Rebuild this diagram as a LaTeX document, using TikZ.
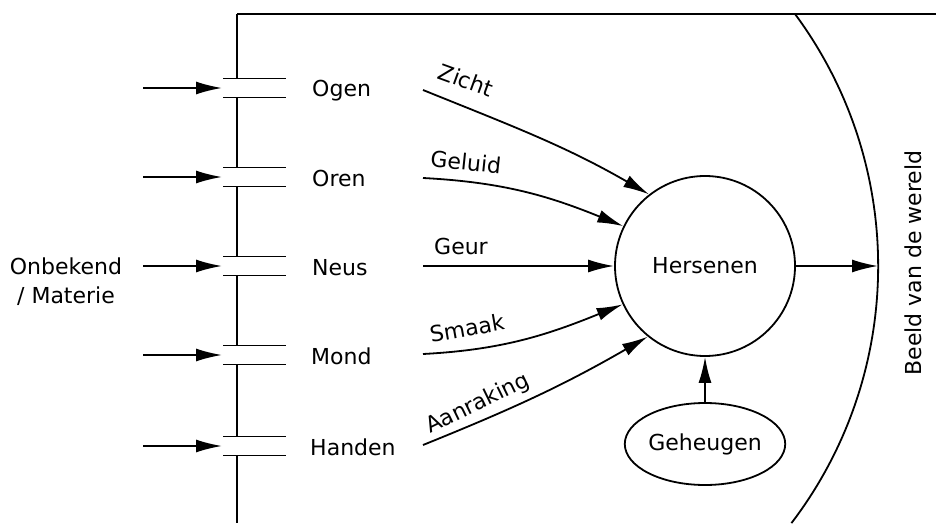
\documentclass[tikz,border=0pt]{standalone}
\usepackage{fontspec}
\setmainfont{DejaVu Sans}
\usetikzlibrary{arrows.meta,shapes.geometric}

\begin{document}
\begin{tikzpicture}[x=1pt, y=1pt, line width=1.8pt,
  pijl/.style={-{Latex[length=26pt,width=13pt]}},
  tekst/.style={font=\fontsize{22}{29}\selectfont}]
  \useasboundingbox (0,0) rectangle (936,523);
  % frame: top edge, right arc
  \draw (237,509) -- (936,509);
  \draw (795,509) arc[start angle=36.5, end angle=-37.3, radius=424];
  % left wall between the openings
  \foreach \a/\b in {509/444.5, 425.5/355.5, 336.5/266.5, 247.5/177.5, 158.5/86.5, 67.5/0}
    \draw (237,\a) -- (237,\b);
  % openings with incoming arrows
  \foreach \y [count=\i] in {435,346,257,168,77} {
    \draw (223,\y+9.5) -- (286,\y+9.5);
    \draw (223,\y-9.5) -- (286,\y-9.5);
    \coordinate (bron\i) at (143,\y);
    \coordinate (poort\i) at (222,\y);
    \draw[pijl] (bron\i) -- (poort\i);
  }

  \node[tekst, align=center] (onbekend) at (66,241) {Onbekend\\/ Materie};

  \node[tekst, anchor=base west] (ogen) at (308,426) {Ogen};
  \node[tekst, anchor=base west] (oren) at (308,337) {Oren};
  \node[tekst, anchor=base west] (neus) at (308,248) {Neus};
  \node[tekst, anchor=base west] (mond) at (307,159) {Mond};
  \node[tekst, anchor=base west] (handen) at (306,68) {Handen};

  \node[tekst, circle, draw, minimum size=180pt, inner sep=0pt] (hersenen) at (705,257) {Hersenen};
  \node[tekst, ellipse, draw, minimum width=160pt, minimum height=82pt, inner sep=0pt] (geheugen) at (705,79) {Geheugen};
  \node[tekst, rotate=90] (beeld) at (913,260) {Beeld van de wereld};

  % senses into the brain
  \coordinate (zicht) at (423,433);
  \coordinate (geluid) at (423,345);
  \coordinate (geur) at (423,257);
  \coordinate (smaak) at (423,169);
  \coordinate (aanraking) at (423,78);
  \draw[pijl] (zicht) to[out=-22, in=150] (hersenen.128);
  \draw[pijl] (geluid) to[out=-3, in=158] (hersenen.154);
  \draw[pijl] (geur) -- (hersenen.west);
  \draw[pijl] (smaak) to[out=3, in=-158] (hersenen.205);
  \draw[pijl] (aanraking) to[out=22, in=-150] (hersenen.231);

  \node[tekst, rotate=-20] (lzicht) at (466,443) {Zicht};
  \node[tekst, rotate=-6] (lgeluid) at (466,361) {Geluid};
  \node[tekst] (lgeur) at (461,277) {Geur};
  \node[tekst, rotate=10] (lsmaak) at (467,195) {Smaak};
  \node[tekst, rotate=26] (laanraking) at (478,119) {Aanraking};

  \coordinate (wereld) at (878,257);
  \draw[pijl] (hersenen.east) -- (wereld);
  \draw[pijl] (geheugen.north) -- (hersenen.south);
\end{tikzpicture}
\end{document}
